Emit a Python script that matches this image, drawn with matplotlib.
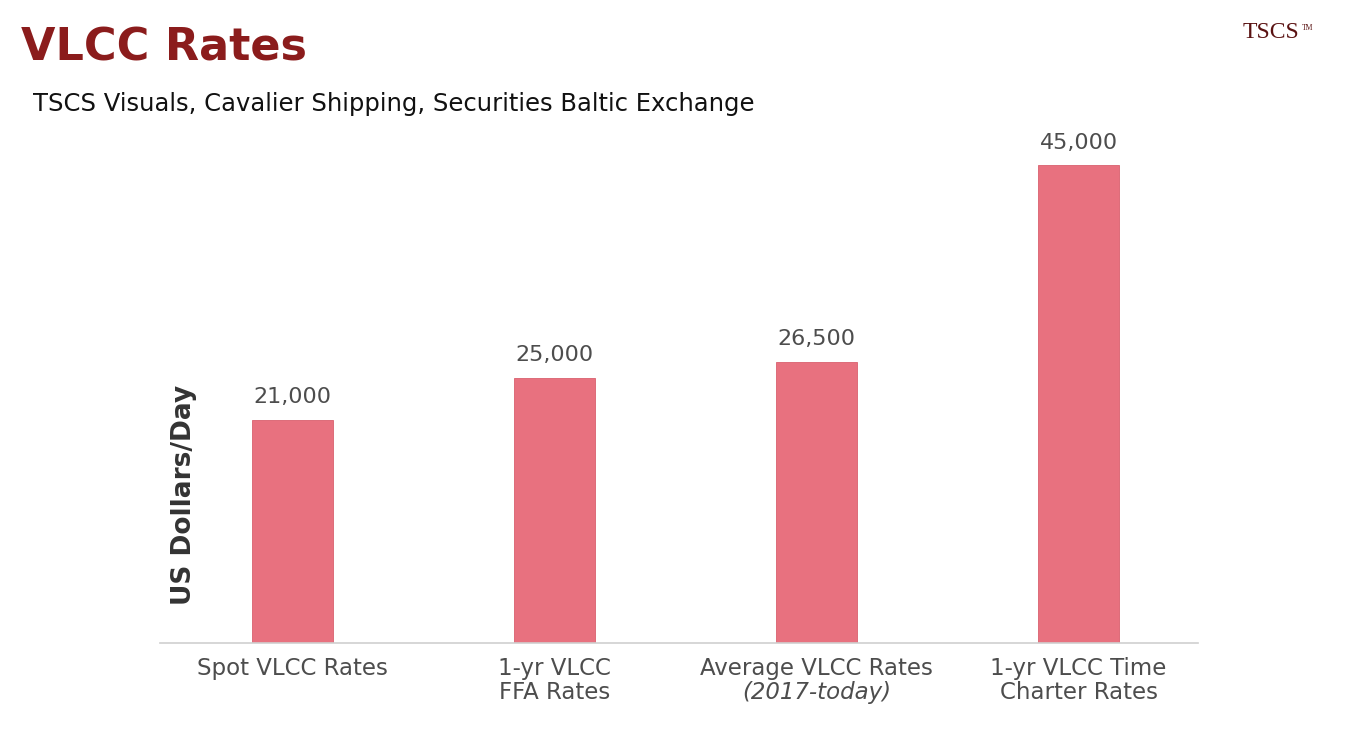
import matplotlib.pyplot as plt
from matplotlib.transforms import blended_transform_factory

# chart data
categories = ['Spot VLCC Rates', '1-yr VLCC\nFFA Rates',
              'Average VLCC Rates\n(2017-today)', '1-yr VLCC Time\nCharter Rates']
rates = [21000, 25000, 26500, 45000]
value_labels = ['21,000', '25,000', '26,500', '45,000']

bar_color = '#e8717f'
title_color = '#8b1c1c'
text_gray = '#4d4d4d'

fig = plt.figure(figsize=(13.55, 7.53), dpi=100)
fig.patch.set_facecolor('white')

# axes placed in pixel terms: baseline at y=643, from x=160 to x=1198
ax = fig.add_axes([160 / 1355, 110 / 753, 1038 / 1355, 531 / 753])
ax.set_facecolor('none')

x = list(range(len(categories)))
ax.bar(x, rates, width=0.31, color=bar_color, edgecolor='#d9606e', linewidth=0.6, zorder=2)

ax.set_xlim(-0.506, 3.456)
ax.set_ylim(0, 50000)

for s in ['top', 'right', 'left']:
    ax.spines[s].set_visible(False)
ax.spines['bottom'].set_color('#cfcfcf')
ax.spines['bottom'].set_linewidth(1.2)
ax.set_yticks([])
ax.set_xticks(x)
ax.set_xticklabels([])
ax.tick_params(axis='x', length=0)

# value labels above bars
for xi, v, lab in zip(x, rates, value_labels):
    ax.annotate(lab, (xi, v), xytext=(0, 9), textcoords='offset points',
                ha='center', va='bottom', fontsize=16, color=text_gray,
                family='DejaVu Sans')

# category labels, second line of the third one in italics
trans = blended_transform_factory(ax.transData, ax.transAxes)
for xi, cat in zip(x, categories):
    lines = cat.split('\n')
    for j, line in enumerate(lines):
        style = 'italic' if line.startswith('(') else 'normal'
        ax.text(xi, -0.026 - j * 0.046, line, transform=trans, ha='center', va='top',
                fontsize=16.5, color=text_gray, family='DejaVu Sans', style=style)

# y axis label
fig.text(184 / 1355, 1 - 495 / 753, 'US Dollars/Day', rotation=90, ha='center', va='center',
         fontsize=19, fontweight='bold', color='#333333', family='DejaVu Sans')

# titles
fig.text(21 / 1355, 1 - 48 / 753, 'VLCC Rates', ha='left', va='center',
         fontsize=32, fontweight='bold', color=title_color, family='DejaVu Sans')
fig.text(33 / 1355, 1 - 104 / 753, 'TSCS Visuals, Cavalier Shipping, Securities Baltic Exchange',
         ha='left', va='center', fontsize=17.5, color='#111111', family='DejaVu Sans')

# logo
fig.text(1243 / 1355, 1 - 33 / 753, 'TSCS', ha='left', va='center',
         fontsize=17, color='#5a1212', family='Liberation Serif')
fig.text(1302 / 1355, 1 - 28 / 753, 'TM', ha='left', va='center',
         fontsize=5.5, color='#5a1212', family='Liberation Serif')

fig.savefig('out.png', dpi=100, facecolor='white')
